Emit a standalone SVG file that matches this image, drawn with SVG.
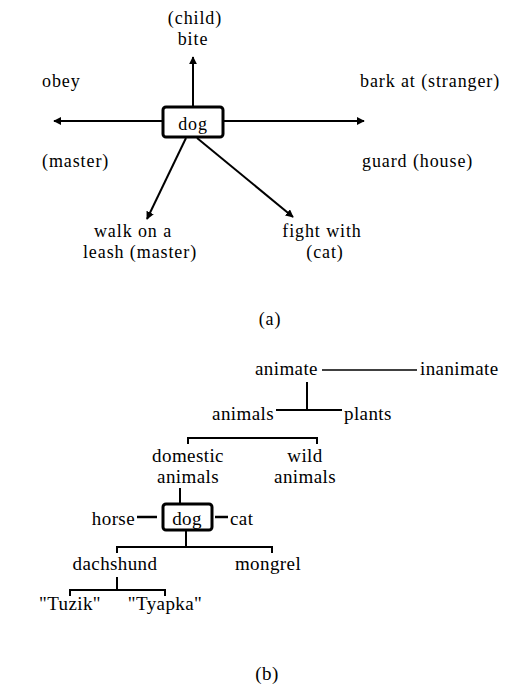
<svg xmlns="http://www.w3.org/2000/svg" width="514" height="686" viewBox="0 0 514 686">
<defs>
<style>
text{font-family:"Liberation Serif","DejaVu Serif",serif;fill:#000}
.a{font-size:18px;letter-spacing:0.9px}
.b{font-size:19px;letter-spacing:0.4px}
.c{text-anchor:middle}
.ln{stroke:#000;stroke-width:2;fill:none}
.thin{stroke:#000;stroke-width:1.5;fill:none}
.box{stroke:#000;stroke-width:3;fill:#fff}
</style>
<marker id="ah" viewBox="0 0 10 10" refX="9" refY="5" markerWidth="4" markerHeight="4" orient="auto" markerUnits="strokeWidth">
<path d="M0,0 L10,5 L0,10 Z" fill="#000"/>
</marker>
</defs>
<rect width="514" height="686" fill="#fff"/>

<g id="connectors-a">
<line class="ln" x1="193" y1="107" x2="193" y2="57" marker-end="url(#ah)"/>
<line class="ln" x1="163" y1="121" x2="54" y2="121" marker-end="url(#ah)"/>
<line class="ln" x1="223" y1="121" x2="364" y2="121" marker-end="url(#ah)"/>
<line class="ln" x1="186" y1="138" x2="147" y2="219" marker-end="url(#ah)"/>
<line class="ln" x1="197" y1="138" x2="293" y2="217" marker-end="url(#ah)"/>
</g>

<g id="dog-a">
<rect class="box" x="163" y="107" width="60" height="30" rx="3"/>
<text class="a c" x="193" y="130">dog</text>
</g>
<g id="bite"><text class="a c" x="195" y="24">(child)</text><text class="a c" x="193" y="45">bite</text></g>
<g id="obey"><text class="a" x="42" y="87">obey</text><text class="a" x="42" y="167">(master)</text></g>
<g id="bark"><text class="a" x="360" y="87">bark at (stranger)</text><text class="a" x="362" y="167">guard (house)</text></g>
<g id="walk"><text class="a c" x="133" y="237">walk on a</text><text class="a c" x="140" y="258">leash (master)</text></g>
<g id="fight"><text class="a c" x="322" y="237">fight with</text><text class="a c" x="325" y="258">(cat)</text></g>
<text class="a c" x="270" y="325">(a)</text>

<g id="connectors-b">
<line class="thin" x1="322" y1="370" x2="417" y2="370"/>
<line class="ln" x1="307" y1="382" x2="307" y2="410"/>
<line class="ln" x1="276" y1="410" x2="342" y2="410"/>
<polyline class="ln" points="188,444 188,438 317,438 317,444"/>
<line class="ln" x1="180" y1="488" x2="180" y2="504"/>
<line class="ln" x1="137" y1="517" x2="157" y2="517" style="stroke-width:2.5"/>
<line class="ln" x1="215" y1="517" x2="228" y2="517" style="stroke-width:2.5"/>
<line class="ln" x1="186" y1="530" x2="186" y2="547"/>
<polyline class="ln" points="117,553 117,547 272,547 272,553"/>
<line class="ln" x1="117" y1="577" x2="117" y2="590"/>
<polyline class="ln" points="70,596 70,590 165,590 165,596"/>
</g>

<g id="animate"><text class="b" x="255" y="375">animate</text></g>
<g id="inanimate"><text class="b" x="420" y="375">inanimate</text></g>
<g id="animals"><text class="b" x="274" y="420" text-anchor="end">animals</text></g>
<g id="plants"><text class="b" x="344" y="420">plants</text></g>
<g id="domestic"><text class="b c" x="188" y="462">domestic</text><text class="b c" x="188" y="483">animals</text></g>
<g id="wild"><text class="b c" x="305" y="462">wild</text><text class="b c" x="305" y="483">animals</text></g>
<g id="dog-b">
<rect class="box" x="163" y="504" width="49" height="26" rx="3"/>
<text class="b c" x="187" y="525">dog</text>
</g>
<g id="horse"><text class="b" x="135" y="525" text-anchor="end">horse</text></g>
<g id="cat"><text class="b" x="230" y="525">cat</text></g>
<g id="dachshund"><text class="b c" x="115" y="570">dachshund</text></g>
<g id="mongrel"><text class="b c" x="268" y="570">mongrel</text></g>
<g id="tuzik"><text class="b c" x="70" y="610">"Tuzik"</text></g>
<g id="tyapka"><text class="b c" x="165" y="610">"Tyapka"</text></g>
<text class="b c" x="267" y="680">(b)</text>
</svg>
